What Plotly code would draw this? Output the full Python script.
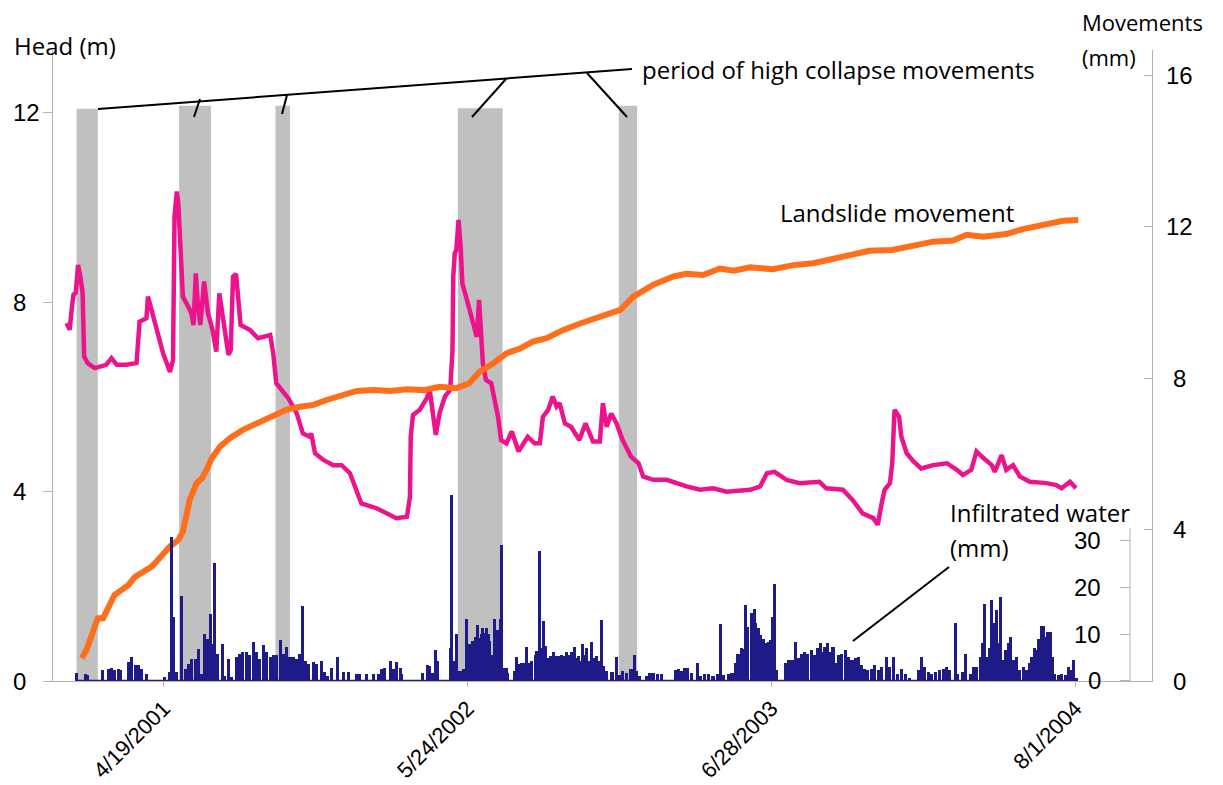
import plotly.graph_objects as go
import pandas as pd

# ---------------- data ----------------
head_dates = ["2000-12-12","2000-12-16","2000-12-19","2000-12-21","2000-12-24","2000-12-27","2000-12-30","2001-01-02","2001-01-04","2001-01-09",
"2001-01-18","2001-02-02","2001-02-09","2001-02-16","2001-03-01","2001-03-14","2001-03-18","2001-03-27","2001-03-29","2001-04-07",
"2001-04-11","2001-04-18","2001-04-27","2001-05-01","2001-05-03","2001-05-06","2001-05-08","2001-05-12","2001-05-14","2001-05-21",
"2001-05-25","2001-05-28","2001-05-31","2001-06-03","2001-06-06","2001-06-11","2001-06-16","2001-06-22","2001-06-27","2001-07-01",
"2001-07-05","2001-07-13","2001-07-16","2001-07-19","2001-07-23","2001-07-27","2001-07-29","2001-08-10","2001-08-21","2001-09-06",
"2001-09-10","2001-09-14","2001-09-23","2001-09-30","2001-10-11","2001-10-19","2001-10-28","2001-10-30","2001-11-04","2001-11-15",
"2001-11-28","2001-12-09","2001-12-20","2001-12-26","2002-01-04","2002-01-24","2002-02-06","2002-02-19","2002-03-05","2002-03-09",
"2002-03-10","2002-03-13","2002-03-22","2002-03-31","2002-04-04","2002-04-12","2002-04-17","2002-04-24","2002-05-01","2002-05-04",
"2002-05-05","2002-05-07","2002-05-09","2002-05-12","2002-05-15","2002-05-17","2002-05-23","2002-05-31","2002-06-05","2002-06-08",
"2002-06-11","2002-06-13","2002-06-17","2002-06-24","2002-07-03","2002-07-07","2002-07-14","2002-07-21","2002-07-30","2002-08-05",
"2002-08-11","2002-08-20","2002-08-27","2002-08-31","2002-09-07","2002-09-13","2002-09-18","2002-09-22","2002-09-29","2002-10-07",
"2002-10-18","2002-10-26","2002-11-05","2002-11-14","2002-11-18","2002-11-23","2002-11-29","2002-12-06","2002-12-14","2002-12-25",
"2003-01-04","2003-01-10","2003-01-23","2003-02-10","2003-03-08","2003-03-26","2003-04-12","2003-04-30","2003-05-31","2003-06-13",
"2003-06-22","2003-07-02","2003-07-18","2003-08-04","2003-08-30","2003-09-08","2003-09-30","2003-10-13","2003-10-26","2003-11-09",
"2003-11-15","2003-11-20","2003-11-24","2003-12-01","2003-12-04","2003-12-07","2003-12-13","2003-12-16","2003-12-23","2004-01-01",
"2004-01-11","2004-01-27","2004-02-14","2004-02-27","2004-03-06","2004-03-17","2004-03-24","2004-04-02","2004-04-13","2004-04-17",
"2004-04-26","2004-05-02","2004-05-11","2004-05-20","2004-06-02","2004-06-24","2004-07-07","2004-07-14","2004-07-25","2004-08-02"]
head_m = [7.56,7.42,7.91,8.16,8.2,8.79,8.54,8.2,6.85,6.71,
6.61,6.68,6.82,6.68,6.68,6.72,7.59,7.66,8.12,7.56,
7.34,6.92,6.53,6.78,9.81,10.34,10.09,8.75,8.12,7.91,
7.77,7.52,8.61,7.91,7.52,8.44,7.77,7.42,6.96,8.19,
7.7,6.89,6.99,8.54,8.6,7.91,7.52,7.42,7.24,7.31,
6.92,6.29,6.11,5.97,5.65,5.23,5.16,5.23,4.81,4.67,
4.56,4.56,4.39,4.11,3.75,3.65,3.54,3.44,3.47,3.89,
5.16,5.62,5.73,5.97,6.15,5.2,5.66,6.01,6.15,6.99,
8.54,9.04,9.1,9.74,9.1,8.4,8.05,7.56,7.27,8.05,
7.42,6.71,6.36,6.29,5.58,5.09,5.02,5.27,4.85,4.99,
5.16,5.02,5.02,5.58,5.73,6.01,5.8,5.87,5.44,5.37,
5.09,5.44,5.06,5.06,5.87,5.37,5.65,5.44,5.09,4.74,
4.6,4.32,4.25,4.25,4.11,4.04,4.07,4.0,4.04,4.11,
4.39,4.42,4.25,4.18,4.21,4.07,4.04,3.82,3.54,3.44,
3.3,3.75,4.04,4.18,4.6,5.73,5.58,5.16,4.81,4.64,
4.49,4.56,4.6,4.46,4.35,4.46,4.85,4.71,4.56,4.42,
4.77,4.46,4.56,4.32,4.21,4.18,4.14,4.07,4.21,4.07]

move_dates = ["2001-01-01","2001-01-07","2001-01-14","2001-01-22","2001-01-29","2001-02-05","2001-02-13","2001-02-22","2001-03-03","2001-03-12",
"2001-03-23","2001-04-03","2001-04-09","2001-04-18","2001-04-27","2001-05-08","2001-05-14","2001-05-19","2001-05-23","2001-06-01",
"2001-06-08","2001-06-14","2001-06-21","2001-07-02","2001-07-15","2001-08-01","2001-08-19","2001-09-10","2001-09-27","2001-10-15",
"2001-11-02","2001-11-19","2001-12-07","2001-12-29","2002-01-20","2002-02-11","2002-03-05","2002-03-27","2002-04-17","2002-05-09",
"2002-05-26","2002-06-09","2002-06-27","2002-07-14","2002-08-01","2002-08-18","2002-09-05","2002-09-27","2002-10-19","2002-11-14",
"2002-12-11","2002-12-28","2003-01-23","2003-02-19","2003-03-08","2003-03-30","2003-04-21","2003-05-09","2003-05-31","2003-06-30",
"2003-07-27","2003-08-22","2003-09-17","2003-10-13","2003-11-04","2003-12-04","2004-01-01","2004-01-27","2004-02-22","2004-03-11",
"2004-04-02","2004-05-02","2004-05-24","2004-06-20","2004-07-16","2004-08-05"]
move_mm = [0.60,0.82,1.21,1.66,1.66,1.96,2.27,2.4,2.53,2.75,
2.89,3.02,3.15,3.37,3.55,3.72,3.94,4.4,4.78,5.22,
5.35,5.57,5.88,6.19,6.41,6.63,6.8,6.98,7.16,7.24,
7.29,7.42,7.51,7.66,7.68,7.66,7.70,7.68,7.77,7.73,
7.86,8.17,8.39,8.65,8.78,8.96,9.05,9.27,9.44,9.62,
9.8,10.15,10.46,10.68,10.75,10.72,10.89,10.83,10.92,10.87,
10.98,11.03,11.16,11.25,11.36,11.38,11.51,11.6,11.63,11.78,
11.73,11.8,11.93,12.04,12.15,12.17]

# infiltrated water: day number counted from 2000-12-01
water_base = "2000-12-01"
water_day = [24,36,39,58,66,70,74,79,82,92,96,101,105,110,116,140,146,149,152,155,
162,167,171,175,180,185,189,193,196,200,203,206,210,216,219,224,228,235,239,243,
248,252,257,261,265,270,274,279,283,287,292,296,301,305,309,314,318,322,325,329,
336,340,347,351,355,360,368,375,382,393,397,406,415,421,426,430,437,441,445,450,452,
480,486,489,492,497,499,516,518,520,524,527,530,533,538,540,542,546,549,552,554,
557,559,562,564,566,568,571,574,576,578,580,582,584,587,590,592,600,603,607,610,
613,616,619,623,628,630,633,636,639,642,645,648,652,656,660,663,666,669,673,676,
679,682,685,687,690,693,696,699,702,704,708,711,715,718,722,729,735,739,743,748,
754,758,761,765,775,779,783,789,794,812,816,821,825,829,834,841,845,851,856,862,
868,872,876,882,887,891,894,898,900,904,
905,908,913,916,918,922,925,928,932,935,938,941,943,945,957,961,966,970,974,979,
983,987,992,996,999,1003,1006,1009,1013,1016,1020,1024,1027,1031,1036,1040,1045,1049,1053,1058,
1062,1066,1071,1075,1080,1084,1090,1094,1100,1105,1110,1115,1121,1132,1137,1141,1146,1150,1155,1160,
1165,1170,1174,1181,1184,1190,1195,1201,1205,1209,1214,1217,1220,1223,1226,1229,1231,1235,1238,1241,
1244,1247,1251,1254,1257,1262,1266,1271,1275,1279,1282,1285,1288,1291,1294,1297,1300,1303,1306,1309,
1312,1317,1321,1326,1330,1333,1337,1340]
water_mm = [1.7,1.5,1.3,2.4,2.6,2.9,2.4,2.6,2.3,4.1,5.1,3.4,3.4,2.6,1.6,0.9,1.9,30.8,13.7,1.9,
18.3,2.6,3.7,4.7,4.7,6.9,1.6,10.1,9.1,14.4,8.0,25.3,5.9,8.0,1.2,4.7,0.9,5.1,5.8,6.2,
6.2,5.5,8.4,6.2,4.7,7.7,6.2,5.1,5.5,5.5,8.7,5.8,7.3,5.1,5.1,4.7,5.8,16.0,4.3,3.7,
4.0,3.7,4.3,1.9,1.2,2.9,5.1,1.9,1.9,1.6,1.6,1.6,1.6,1.6,2.6,2.9,4.3,2.6,4.0,2.9,1.6,
1.8,3.4,3.2,1.8,6.6,4.3,7.1,39.9,4.3,10.1,2.1,2.1,2.5,13.4,5.7,7.9,8.6,9.4,12.0,9.3,
10.0,11.4,10.4,11.4,10.0,8.6,5.7,13.4,5.7,10.9,1.8,13.2,29.1,2.9,2.9,1.8,2.1,5.1,3.7,3.9,
3.9,7.4,3.9,4.3,5.7,6.4,27.9,7.1,12.9,7.5,5.0,5.4,6.3,5.4,5.4,5.7,5.4,6.3,5.7,6.3,
7.3,5.0,5.4,4.3,7.9,5.7,7.1,4.3,8.4,5.0,5.4,4.3,13.0,3.2,2.1,1.9,5.1,1.4,2.1,1.8,
2.5,5.7,2.1,1.1,1.1,1.8,1.8,1.6,1.6,2.3,2.7,2.1,2.9,2.9,1.8,3.9,1.1,1.6,1.6,1.1,
1.6,12.3,1.4,1.6,1.8,3.9,5.9,5.9,7.1,6.8,
16.3,11.6,14.5,15.4,12.4,11.3,9.9,9.1,8.1,8.4,8.8,13.8,20.9,2.4,3.8,4.5,4.5,8.4,4.9,5.9,
6.3,5.9,6.6,5.6,7.0,8.2,6.3,7.4,8.1,6.3,7.4,3.8,5.6,5.9,6.6,5.2,4.5,4.9,5.2,3.4,
2.7,2.4,2.7,3.4,2.4,3.1,5.1,3.1,5.1,1.6,2.7,1.6,0.6,2.4,5.2,3.1,2.0,1.6,2.0,2.4,
2.7,3.1,2.4,12.4,1.6,2.0,5.9,1.6,3.1,3.1,5.2,8.1,16.5,5.2,7.0,17.4,12.4,15.2,8.1,18.1,
4.5,6.6,8.1,9.5,4.5,5.2,2.4,3.1,2.4,3.8,5.2,7.0,6.6,9.1,11.8,11.8,9.5,10.6,10.6,5.2,
1.6,1.3,1.6,1.3,3.1,2.4,4.6,0.6]

collapse_start = ["2000-12-25","2001-05-09","2001-09-13","2002-05-11","2002-12-09"]
collapse_end = ["2001-01-22","2001-06-20","2001-10-02","2002-07-09","2003-01-02"]
collapse_top = [12.09, 12.15, 12.15, 12.1, 12.15]

x_tick_dates = ["2001-04-19","2002-05-24","2003-06-28","2004-08-01"]
x_tick_text = ["4/19/2001","5/24/2002","6/28/2003","8/1/2004"]
head_ticks = [0, 4, 8, 12]
move_ticks = [0, 4, 8, 12, 16]
water_ticks = [0, 10, 20, 30]

assert len(head_dates) == len(head_m)
assert len(move_dates) == len(move_mm)
assert len(water_day) == len(water_mm)

# ---------------- styling ----------------
PINK = "#ec148c"
ORANGE = "#ff6e1a"
NAVY = "#1e1a88"
GREY = "#c0c0c0"
AX = "#b4b4b4"
TXT = "Open Sans, Noto Sans, sans-serif"
NUM = "Liberation Sans, Arial, sans-serif"

PAGE = 8                       # browser default body margin
W, H = 1223 - PAGE, 785 - PAGE
L, R, T, B = 53 - PAGE, 71, 50 - PAGE, 104
PW, PH = W - L - R, H - T - B


def px(xp):                   # reference-picture x pixel -> paper fraction
    return (xp - PAGE - L) / PW


def py(yp):                   # reference-picture y pixel -> paper fraction
    return (H - B - (yp - PAGE)) / PH


water_dates = [pd.Timestamp(water_base) + pd.Timedelta(days=d) for d in water_day]

fig = go.Figure()
fig.add_trace(go.Bar(x=water_dates, y=water_mm, yaxis="y3",
                     marker=dict(color=NAVY, line=dict(width=0)),
                     width=4 * 86400000, hoverinfo="skip"))
fig.add_trace(go.Scatter(x=[water_dates[0], water_dates[-1]], y=[0, 0], yaxis="y3",
                         mode="lines", line=dict(color=NAVY, width=2.5), hoverinfo="skip"))
fig.add_trace(go.Scatter(x=head_dates, y=head_m, mode="lines",
                         line=dict(color=PINK, width=4.5)))
fig.add_trace(go.Scatter(x=move_dates, y=move_mm, yaxis="y2", mode="lines",
                         line=dict(color=ORANGE, width=6)))

shapes = []
for s, e, t in zip(collapse_start, collapse_end, collapse_top):
    shapes.append(dict(type="rect", xref="x", yref="y", x0=s, x1=e, y0=0, y1=t,
                       fillcolor=GREY, line=dict(width=0), layer="below"))

# leader lines (pixel geometry of the annotation drawing)
leaders = [((98, 109), (632, 69)), ((200, 99), (194, 117)), ((287, 95), (282, 114)),
           ((506, 79), (472, 117)), ((587, 73), (627, 117)), ((853, 641), (949, 567))]
for (a, b) in leaders:
    shapes.append(dict(type="line", xref="paper", yref="paper",
                       x0=px(a[0]), y0=py(a[1]), x1=px(b[0]), y1=py(b[1]),
                       line=dict(color="black", width=2)))
# infiltrated water axis line (only up to just above 30)
shapes.append(dict(type="line", xref="paper", yref="y3", x0=px(1130), x1=px(1130),
                   y0=0, y1=32.8, line=dict(color=AX, width=1)))

ann = []
tf = dict(family=NUM, size=24, color="black")
for v in head_ticks:
    ann.append(dict(xref="paper", yref="y", x=px(11), y=v, xanchor="left", yanchor="middle",
                    text=str(v), showarrow=False, font=tf))
for v in move_ticks:
    ann.append(dict(xref="paper", yref="y2", x=px(1179), y=v, xanchor="center", yanchor="middle",
                    text=str(v), showarrow=False, font=tf))
for v in water_ticks:
    ann.append(dict(xref="paper", yref="y3", x=px(1103), y=v, xanchor="right", yanchor="middle",
                    text=str(v), showarrow=False, font=tf))

labels = [("Head (m)", 12, 45, 24), ("Movements", 1080, 22, 22), ("(mm)", 1080, 57, 22),
          ("period of high collapse movements", 640, 70, 24), ("Landslide movement", 778, 212, 24),
          ("Infiltrated water", 948, 512, 24), ("(mm)", 948, 547, 24)]
for t, xx, yy, fs in labels:
    ann.append(dict(xref="paper", yref="paper", x=px(xx), y=py(yy), xanchor="left",
                    yanchor="middle", text=t, showarrow=False,
                    font=dict(family=TXT, size=fs, color="black")))

fig.update_layout(
    width=W, height=H, margin=dict(l=L, r=R, t=T, b=B, autoexpand=False),
    plot_bgcolor="rgba(0,0,0,0)", paper_bgcolor="white", showlegend=False, bargap=0,
    xaxis=dict(type="date", range=["2000-11-24", "2004-11-10"], automargin=False,
               tickvals=x_tick_dates, ticktext=x_tick_text, tickangle=-45,
               ticks="outside", ticklen=5, tickcolor=AX, showline=True, linecolor=AX,
               showgrid=False, zeroline=False, tickfont=dict(family=NUM, size=22, color="black")),
    yaxis=dict(range=[0, 13.33], tickvals=head_ticks, showticklabels=False, automargin=False,
               ticks="outside", ticklen=9, tickcolor=AX, showline=True, linecolor=AX,
               showgrid=False, zeroline=False),
    yaxis2=dict(range=[0, 16.66], overlaying="y", side="right", tickvals=move_ticks,
                showticklabels=False, ticks="inside", ticklen=8, tickcolor=AX, automargin=False,
                showline=True, linecolor=AX, showgrid=False, zeroline=False),
    yaxis3=dict(domain=[0, 0.3108], range=[0, 42], anchor="free", position=px(1130),
                side="left", tickvals=water_ticks, showticklabels=False, ticks="outside",
                automargin=False,
                ticklen=10, tickcolor=AX, showline=False, showgrid=False, zeroline=False),
    shapes=shapes, annotations=ann,
)

fig.write_html("out.html")
